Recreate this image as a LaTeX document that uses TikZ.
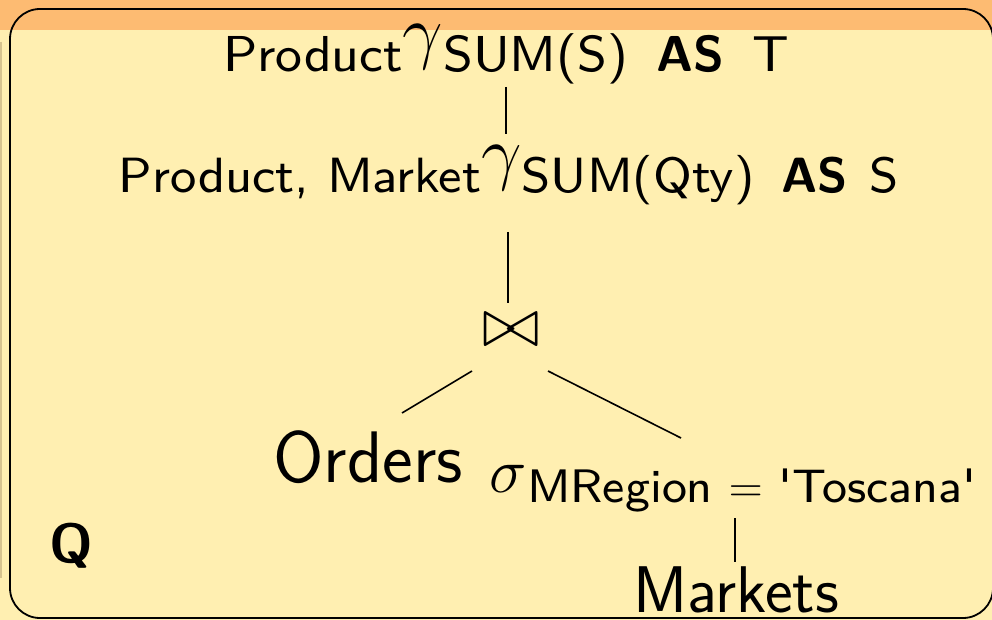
\RequirePackage{fix-cm}
\documentclass[tikz,border=0pt]{standalone}
\usepackage{fontspec}
\newfontfamily\labelsf{lmsans8-regular}[Extension=.otf,BoldFont=lmsans10-bold]
\definecolor{bandorange}{HTML}{FDBB72}
\definecolor{blockyellow}{HTML}{FFEFB1}
\definecolor{edgetan}{HTML}{D6C38F}
\newcommand{\grplabel}[3]{{\labelsf\fontsize{#1}{60}\selectfont #2}\raisebox{16pt}{\fontsize{72}{80}\selectfont$\gamma$}{\labelsf\fontsize{#1}{60}\selectfont #3}}
\begin{document}
\begin{tikzpicture}[x=1pt,y=-1pt,
  every node/.style={inner sep=0pt,outer sep=0pt,font=\sffamily},
  conn/.style={line width=1.6pt}]
\useasboundingbox (0,0) rectangle (992,620);
\fill[bandorange] (0,0) rectangle (992,30);
\fill[blockyellow] (0,30) rectangle (992,620);
\draw[edgetan,line width=1.5pt] (0.75,42) -- (0.75,578);
\draw[line width=1.8pt,rounded corners=30pt] (10,9) rectangle (993,618);

\node[anchor=base] (r1) at (506,72) {\grplabel{50.5}{Product}{SUM(S)\hspace{28pt}\textbf{AS}\hspace{28pt}T}};
\node[anchor=base] (r2) at (509,193) {\grplabel{49.5}{Product, Market}{SUM(Qty)\hspace{27pt}\textbf{AS}\hspace{22pt}S}};
\node (join) at (511,330) {\fontsize{70}{76}\selectfont$\bowtie$};
\node[anchor=base] (orders) at (368,482) {\fontsize{73}{80}\selectfont Orders};
\node[anchor=base] (sel) at (733,492) {\fontsize{63}{70}\selectfont$\sigma$\raisebox{-10pt}{\labelsf\fontsize{47}{54}\selectfont MRegion\hspace{16pt}$=$\hspace{16pt}'Toscana'}};
\node[anchor=base] (markets) at (736,612) {\fontsize{66}{72}\selectfont Markets};
\node[anchor=base west] (q) at (49,562) {\fontsize{55}{62}\selectfont\bfseries Q};

\draw[conn] ([yshift=-15pt]r1.base) -- ([xshift=-3pt,yshift=59pt]r2.base);
\draw[conn] ([xshift=-1pt,yshift=-39pt]r2.base) -- ([xshift=-3pt,yshift=27pt]join.center);
\draw[conn] ([xshift=-39pt,yshift=-41pt]join.center) -- ([xshift=34pt,yshift=69pt]orders.base);
\draw[conn] ([xshift=37pt,yshift=-41pt]join.center) -- ([xshift=-52pt,yshift=54pt]sel.base);
\draw[conn] ([xshift=2pt,yshift=-26pt]sel.base) -- ([xshift=-1pt,yshift=50pt]markets.base);
\end{tikzpicture}
\end{document}
